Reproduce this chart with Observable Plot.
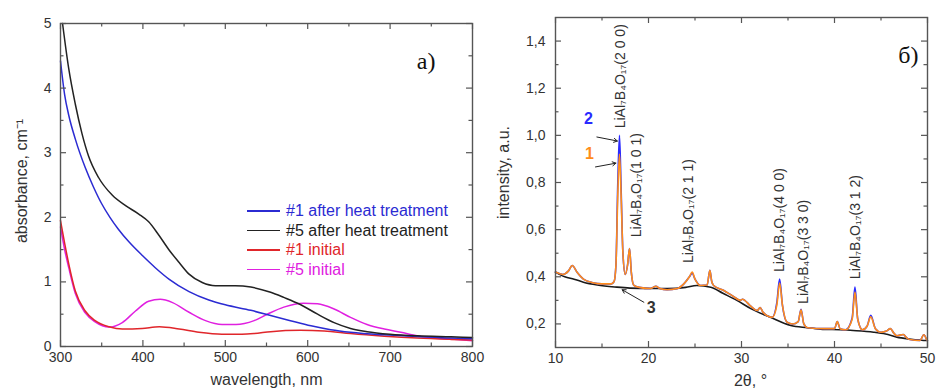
<!DOCTYPE html>
<html><head><meta charset="utf-8">
<script src="https://cdn.jsdelivr.net/npm/d3@7"></script>
<script src="https://cdn.jsdelivr.net/npm/@observablehq/plot@0.6"></script>
<style>
html,body{margin:0;padding:0;background:#fff;}
#wrap{position:relative;display:flex;width:938px;height:389px;overflow:hidden;font-family:"Liberation Sans",Arial,sans-serif;}
#legend{position:absolute;left:247px;top:201px;font-size:16px;line-height:19.6px;}
#legend .row{display:flex;align-items:center;height:19.6px;white-space:nowrap;}
#legend .ln{display:inline-block;width:33px;height:1.6px;margin-right:6px;}
</style></head><body><div id="wrap"><div id="legend"></div></div>
<script>
// ---------- panel a) absorbance ----------
const seriesNames = ["#1 after heat treatment", "#5 after heat treatment", "#1 initial", "#5 initial"];
const seriesColors = ["#2b2bd2", "#222222", "#e0262b", "#e020e0"];

const wlBlue = [300,305,310,318,330,340,350,360,370,383,400,415,432,456,480,500,531,555,579,604,628,652,693,733,774,800];
const absBlue = [4.42,3.9,3.58,3.21,2.77,2.47,2.21,2.0,1.82,1.62,1.40,1.22,1.04,0.85,0.72,0.645,0.56,0.48,0.40,0.32,0.26,0.22,0.18,0.155,0.13,0.12];

const wlBlack = [302.5,310,318,326,334,346,363,379,395,407,419,432,444,456,472,488,512,531,555,571,591,612,632,652,672,700,733,774,800];
const absBlack = [5.0,4.3,3.75,3.3,2.95,2.62,2.34,2.18,2.05,1.93,1.73,1.49,1.30,1.12,0.99,0.94,0.94,0.92,0.84,0.76,0.65,0.50,0.37,0.28,0.23,0.19,0.165,0.15,0.14];

const wlRed = [300,305,310,318,330,342,359,375,399,420,444,468,496,520,535,555,591,620,652,693,733,774,800];
const absRed = [1.95,1.6,1.28,0.86,0.55,0.40,0.305,0.27,0.28,0.305,0.27,0.22,0.19,0.19,0.20,0.23,0.25,0.24,0.20,0.16,0.13,0.11,0.10];

const wlMag = [300,305,310,318,330,342,359,375,391,407,421,436,456,476,496,513,535,551,571,595,612,632,652,672,693,713,733,774,800];
const absMag = [1.85,1.5,1.22,0.82,0.52,0.38,0.30,0.37,0.55,0.70,0.73,0.68,0.53,0.40,0.34,0.34,0.40,0.50,0.61,0.67,0.66,0.58,0.45,0.34,0.27,0.22,0.165,0.115,0.09];

const wlMajor = [300,400,500,600,700,800];
const wlMinor = [350,450,550,650,750];
const absMajor = [0,1,2,3,4,5];
const absMinor = [0.5,1.5,2.5,3.5,4.5];

// ---------- panel б) XRD ----------
const tt = [10.0,10.8,11.4,11.8,12.3,13.0,14.0,15.0,16.0,16.3,16.5,16.7,16.88,17.05,17.25,17.5,17.75,17.96,18.15,18.4,19.0,20.2,20.8,21.2,22.0,23.1,23.8,24.4,24.7,25.0,25.6,26.3,26.6,26.8,27.0,28.1,29.0,29.9,30.1,31.0,31.7,32.0,32.3,33.3,33.8,34.1,34.4,34.9,35.5,36.1,36.4,36.7,37.1,38.9,40.0,40.3,40.6,41.2,41.9,42.2,42.5,43.0,43.5,43.9,44.4,45.0,45.6,46.0,46.4,46.7,47.4,47.8,48.1,49.2,49.6,49.9];
const int1 = [0.42,0.41,0.425,0.448,0.42,0.39,0.375,0.37,0.37,0.38,0.45,0.75,0.92,0.75,0.50,0.41,0.45,0.52,0.42,0.365,0.355,0.35,0.36,0.35,0.345,0.35,0.37,0.40,0.42,0.39,0.363,0.365,0.427,0.38,0.363,0.342,0.32,0.30,0.305,0.275,0.257,0.27,0.25,0.228,0.28,0.373,0.28,0.207,0.20,0.21,0.26,0.20,0.184,0.18,0.18,0.21,0.18,0.175,0.22,0.335,0.22,0.175,0.19,0.23,0.18,0.165,0.17,0.18,0.16,0.15,0.155,0.14,0.134,0.13,0.154,0.133];
const int2 = [0.42,0.41,0.425,0.448,0.42,0.39,0.375,0.37,0.37,0.38,0.45,0.80,1.0,0.78,0.50,0.41,0.45,0.52,0.42,0.365,0.355,0.35,0.36,0.35,0.345,0.35,0.37,0.40,0.415,0.39,0.363,0.365,0.427,0.38,0.363,0.342,0.32,0.30,0.305,0.275,0.257,0.27,0.25,0.228,0.29,0.39,0.28,0.207,0.20,0.21,0.262,0.20,0.184,0.18,0.18,0.21,0.18,0.175,0.225,0.356,0.22,0.175,0.19,0.237,0.18,0.165,0.17,0.18,0.16,0.15,0.155,0.14,0.134,0.13,0.154,0.133];
const tt3 = [10,11,12,13,14.5,16.6,18,20.2,22,24,25.2,26.7,28,29.5,31,33.1,35.3,37.1,38.5,40.6,42,44.2,45.5,46.7,48,49.6,50];
const int3 = [0.42,0.40,0.39,0.377,0.365,0.356,0.352,0.35,0.35,0.355,0.363,0.356,0.33,0.30,0.265,0.228,0.193,0.184,0.178,0.175,0.172,0.165,0.157,0.144,0.136,0.13,0.13];

const ttMajor = [10,20,30,40,50];
const ttMinor = [15,25,35,45];
const intMajor = [0.2,0.4,0.6,0.8,1.0,1.2,1.4];
const intMinor = [0.3,0.5,0.7,0.9,1.1,1.3];

const peakLabels = ["LiAl₇B₄O₁₇(2 0 0)","LiAl₇B₄O₁₇(1 0 1)","LiAl₇B₄O₁₇(2 1 1)","LiAl₇B₄O₁₇(4 0 0)","LiAl₇B₄O₁₇(3 3 0)","LiAl₇B₄O₁₇(3 1 2)"];
const peakLabelX = [17.0, 18.75, 24.35, 34.1, 36.7, 42.25];
const peakLabelY = [1.03, 0.568, 0.458, 0.42, 0.285, 0.39];

const curveNames = ["2", "1", "3"];
const curveNameX = [13.55, 13.66, 20.3];
const curveNameY = [1.07, 0.923, 0.27];
const curveNameColors = ["#2a2aff", "#ff8c1a", "#333333"];
const arrowX1 = [14.45, 14.3, 19.5], arrowY1 = [0.993, 0.866, 0.292];
const arrowX2 = [16.65, 16.5, 17.17], arrowY2 = [0.976, 0.882, 0.345];

// ---------- helpers ----------
const FRAME = "#555";
const H = 389;
const rows = (xs, ys) => xs.map((x, i) => ({x, y: ys[i]}));
const comma = d => d.toFixed(1).replace(".", ",");
const SANS = '"Liberation Sans", Arial, sans-serif';
const SERIF = '"Liberation Serif", "Times New Roman", serif';

function frameTicks(xMaj, xMin, yMaj, yMin, fw, fh) {
  const s = {stroke: FRAME, strokeWidth: 1.2};
  const id = d => d;
  return [
    Plot.tickX(xMaj, {x: id, insetTop: fh - 6, ...s}),
    Plot.tickX(xMaj, {x: id, insetBottom: fh - 6, ...s}),
    Plot.tickX(xMin, {x: id, insetTop: fh - 3.5, ...s}),
    Plot.tickX(xMin, {x: id, insetBottom: fh - 3.5, ...s}),
    Plot.tickY(yMaj, {y: id, insetRight: fw - 6, ...s}),
    Plot.tickY(yMaj, {y: id, insetLeft: fw - 6, ...s}),
    Plot.tickY(yMin, {y: id, insetRight: fw - 3.5, ...s}),
    Plot.tickY(yMin, {y: id, insetLeft: fw - 3.5, ...s}),
    Plot.frame({stroke: FRAME, strokeWidth: 1.4})
  ];
}

// ---------- panel a ----------
const W1 = 490, m1 = {top: 23, right: 18, bottom: 43, left: 60};
const fw1 = W1 - m1.left - m1.right, fh1 = H - m1.top - m1.bottom;
const lineData = [
  [wlMag, absMag, 3], [wlRed, absRed, 2], [wlBlue, absBlue, 0], [wlBlack, absBlack, 1]
];
const plotA = Plot.plot({
  width: W1, height: H,
  marginTop: m1.top, marginRight: m1.right, marginBottom: m1.bottom, marginLeft: m1.left,
  style: {fontFamily: SANS, fontSize: "14px", background: "white", color: "#333"},
  x: {domain: [300, 800]},
  y: {domain: [0, 5]},
  marks: [
    ...lineData.map(([xs, ys, k]) => Plot.line(rows(xs, ys), {x: "x", y: "y", stroke: seriesColors[k], strokeWidth: 1.5, curve: "monotone-x"})),
    ...frameTicks(wlMajor, wlMinor, absMajor, absMinor, fw1, fh1),
    Plot.axisX({ticks: wlMajor, tickSize: 0, tickPadding: 6, fontSize: 14, label: null}),
    Plot.axisY({ticks: absMajor, tickSize: 0, tickPadding: 9, fontSize: 14, label: null, tickFormat: d => String(d)}),
    Plot.text(["wavelength, nm"], {frameAnchor: "bottom", dy: 33, textAnchor: "middle", lineAnchor: "middle", fontSize: 16, fill: "#333"}),
    Plot.text(["absorbance, cm⁻¹"], {frameAnchor: "left", dx: -39, dy: -4, rotate: -90, textAnchor: "middle", lineAnchor: "middle", fontSize: 16, fill: "#333"}),
    Plot.text(["a)"], {frameAnchor: "top-right", dx: -37, dy: 28, textAnchor: "end", lineAnchor: "top", fontSize: 24, fontFamily: SERIF, fill: "#111"})
  ]
});

// ---------- panel b ----------
const W2 = 448, m2 = {top: 17, right: 11, bottom: 42, left: 65};
const fw2 = W2 - m2.left - m2.right, fh2 = H - m2.top - m2.bottom;
const plotB = Plot.plot({
  width: W2, height: H,
  marginTop: m2.top, marginRight: m2.right, marginBottom: m2.bottom, marginLeft: m2.left,
  style: {fontFamily: SANS, fontSize: "14px", background: "white", color: "#333"},
  x: {domain: [10, 50]},
  y: {domain: [0.1, 1.5]},
  marks: [
    Plot.line(rows(tt3, int3), {x: "x", y: "y", stroke: "#1a1a1a", strokeWidth: 1.6, curve: "monotone-x"}),
    Plot.line(rows(tt, int2), {x: "x", y: "y", stroke: "#2a2aff", strokeWidth: 1.6, curve: "monotone-x"}),
    Plot.line(rows(tt, int1), {x: "x", y: "y", stroke: "#ff8c1a", strokeWidth: 1.6, curve: "monotone-x"}),
    ...frameTicks(ttMajor, ttMinor, intMajor, intMinor, fw2, fh2),
    Plot.axisX({ticks: ttMajor, tickSize: 0, tickPadding: 6, fontSize: 14, label: null}),
    Plot.axisY({ticks: intMajor, tickSize: 0, tickPadding: 10, fontSize: 14, label: null, tickFormat: comma}),
    Plot.text(peakLabels.map((t, i) => ({t, x: peakLabelX[i], y: peakLabelY[i]})), {x: "x", y: "y", text: "t", rotate: -90, textAnchor: "start", lineAnchor: "middle", fontSize: 14, fill: "#333"}),
    Plot.arrow(arrowX1.map((x1, i) => ({x1, y1: arrowY1[i], x2: arrowX2[i], y2: arrowY2[i]})), {x1: "x1", y1: "y1", x2: "x2", y2: "y2", stroke: "#222", strokeWidth: 1, headLength: 6}),
    Plot.text(curveNames.map((t, i) => ({t, x: curveNameX[i], y: curveNameY[i], c: curveNameColors[i]})), {x: "x", y: "y", text: "t", fill: d => d.c, fontSize: 16, fontWeight: "bold"}),
    Plot.text(["2θ, °"], {frameAnchor: "bottom", dy: 33, dx: 9, textAnchor: "middle", lineAnchor: "middle", fontSize: 16, fill: "#333"}),
    Plot.text(["intensity, a.u."], {frameAnchor: "left", dx: -52, dy: -10, rotate: -90, textAnchor: "middle", lineAnchor: "middle", fontSize: 16, fill: "#333"}),
    Plot.text(["б)"], {frameAnchor: "top-right", dx: -9, dy: 28, textAnchor: "end", lineAnchor: "top", fontSize: 24, fontFamily: SERIF, fill: "#111"})
  ]
});

const wrap = document.getElementById("wrap");
wrap.insertBefore(plotA, wrap.firstChild);
wrap.insertBefore(plotB, document.getElementById("legend"));

// legend (panel a)
const legend = d3.select("#legend");
seriesNames.forEach((name, i) => {
  const r = legend.append("div").attr("class", "row");
  r.append("span").attr("class", "ln").style("background", seriesColors[i]);
  r.append("span").text(name).style("color", seriesColors[i]);
});
</script></body></html>
